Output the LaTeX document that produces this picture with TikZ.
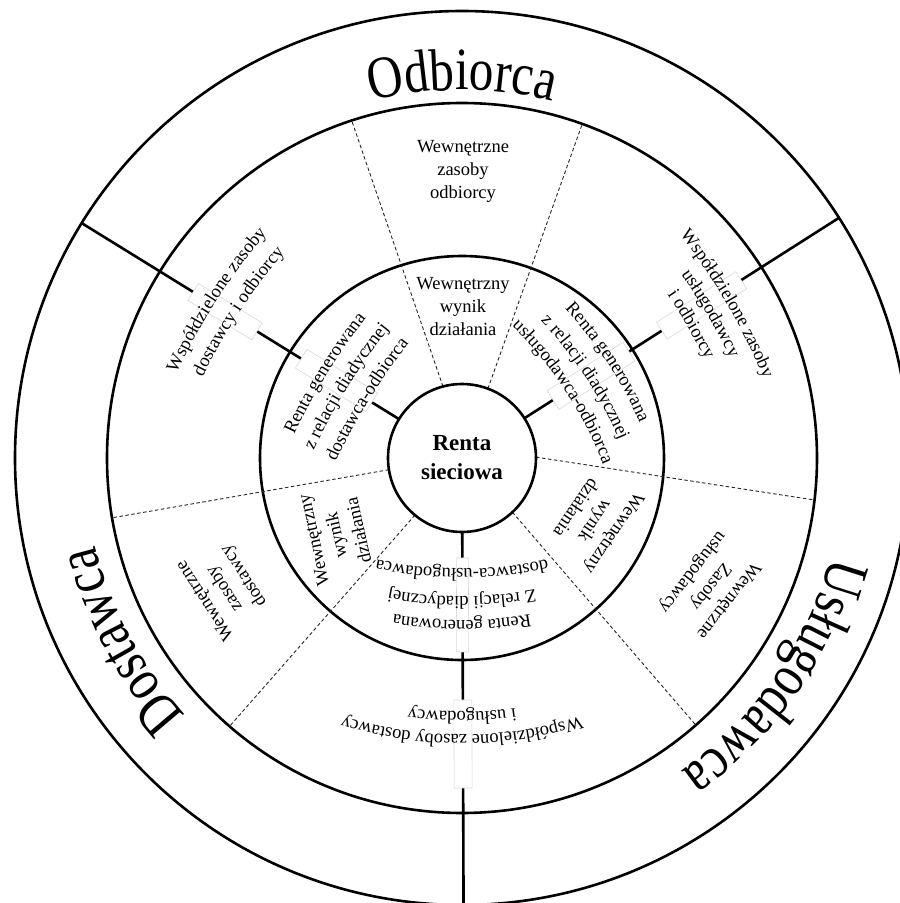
\documentclass[tikz,border=0pt]{standalone}
\usepackage{fontspec}
\setmainfont{Liberation Serif}
\newfontfamily\bigfam[FakeStretch=0.82]{Liberation Serif}
\usetikzlibrary{decorations.text}
\newcommand\ringfont{\fontsize{18.5}{23}\selectfont}
\newcommand\bigfont{\bigfam\fontsize{60}{70}\selectfont}
% concentric arc text: #1 centre angle, #2 baseline radius, #3 text
\newcommand\arcline[3]{%
  \path[decorate, decoration={text along path, text align=center, text={#3}}]
    ({#1+85}:#2) arc[start angle={#1+85}, end angle={#1-85}, radius=#2];}
% flatter arc text: #1 angle of mid point, #2 its radius, #3 curvature radius, #4 text
\newcommand\carc[4]{%
  \pgfmathsetmacro\hspan{min(85,9000/#3)}%
  \path[shift={(#1:{#2-#3})}, decorate,
        decoration={text along path, text align=center, text={#4}}]
    ({#1+\hspan}:#3) arc[start angle={#1+\hspan}, end angle={#1-\hspan}, radius=#3];}
\begin{document}
\begin{tikzpicture}[x=1pt,y=1pt,
  ring/.style={line width=2.6pt},
  spoke/.style={line width=2.6pt},
  divider/.style={line width=0.9pt, dash pattern=on 3.5pt off 2.5pt, black!85},
  tbox/.style={draw=black!15, line width=0.6pt, fill=white, inner sep=0pt},
  lbl/.style={font=\ringfont, align=center, inner sep=0pt},
]
\useasboundingbox (-462,-445) rectangle (438,458);
% circles
\draw[ring] (0,0) circle[radius=447];
\draw[ring] (0,0) circle[radius=355];
\draw[ring] (0,0) circle[radius=202];
% dashed dividers
\draw[divider] (104.9:74) -- (108.1:355);
\draw[divider] (69.5:74) -- (70.2:355);
\draw[divider] (189.1:74) -- (189.7:355);
\draw[divider] (230.5:74) -- (229.1:355);
\draw[divider] (0.7:74) -- (-6.8:355);
\draw[divider] (-47.1:74) -- (-48.8:355);
% spokes
\draw[spoke] (148.3:74) -- (148.3:447);
\draw[spoke] (32.5:74) -- (32.5:447);
\draw[spoke] (-89.8:74) -- (-89.8:460);
% faint text boxes interrupting spokes
\node[tbox, rotate=148.3, minimum width=75, minimum height=20] (b1) at (148.3:278.5) {};
\node[tbox, rotate=148.3, minimum width=83, minimum height=22] (b2) at (148.3:147.5) {};
\node[tbox, rotate=32.5, minimum width=94, minimum height=20] (b3) at (32.5:284) {};
\node[tbox, rotate=32.5, minimum width=90, minimum height=22] (b4) at (32.5:153) {};
\node[tbox, rotate=-89.8, minimum width=94, minimum height=12] (b5) at (-89.8:147) {};
\node[tbox, rotate=-89.8, minimum width=88, minimum height=18] (b6) at (-89.8:286) {};
% centre
\node[circle, draw, line width=2.6pt, minimum size=148, fill=white,
  font=\bfseries\fontsize{23}{29}\selectfont, align=center] (core) at (0,0) {Renta\\sieciowa};
% big curved labels
\arcline{90}{368}{|\bigfont|Odbiorca}
\arcline{-35}{382}{|\bigfont|Usługodawca}
\arcline{208.2}{377}{|\bigfont|Dostawca}
% straight labels
\node[lbl] (wzo) at (1,287) {Wewnętrzne\\zasoby\\odbiorcy};
\node[lbl] (wwo) at (1,151) {Wewnętrzny\\wynik\\działania};
\node[lbl, rotate=123] (wzd) at (-237,-130) {Wewnętrzne\\zasoby\\dostawcy};
\node[lbl, rotate=102.5] (wwd) at (-126,-77) {Wewnętrzny\\wynik\\działania};
\node[lbl, rotate=-124] (wwu) at (133.5,-63) {Wewnętrzny\\wynik\\działania};
\node[lbl, rotate=-128] (wzu) at (248,-128) {Wewnętrzne\\Zasoby\\usługodawcy};
% gently curved labels
\carc{147.2}{291.5}{600}{|\ringfont|Współdzielone zasoby}
\carc{146.7}{266}{600}{|\ringfont|dostawcy i odbiorcy}
\carc{148.3}{159}{600}{|\ringfont|Renta generowana}
\carc{148.3}{134.5}{600}{|\ringfont|z relacji diadycznej}
\carc{148.3}{109.5}{600}{|\ringfont|dostawca-odbiorca}
\carc{30.2}{306.4}{600}{|\ringfont|Współdzielone zasoby}
\carc{30.2}{283.8}{600}{|\ringfont|usługodawcy}
\carc{30.2}{260.9}{600}{|\ringfont|i odbiorcy}
\carc{33.3}{173.7}{400}{|\ringfont|Renta generowana}
\carc{33.3}{147.6}{400}{|\ringfont|z relacji diadycznej}
\carc{33.3}{123.1}{400}{|\ringfont|usługodawca-odbiorca}
\carc{-90}{277}{400}{|\ringfont|Współdzielone zasoby dostawcy}
\carc{-90}{254}{400}{|\ringfont|i usługodawcy}
\carc{-90}{162.5}{400}{|\ringfont|Renta generowana}
\carc{-90}{138.5}{400}{|\ringfont|Z relacji diadycznej}
\carc{-90}{111}{400}{|\ringfont|dostawca-usługodawca}
\end{tikzpicture}
\end{document}
